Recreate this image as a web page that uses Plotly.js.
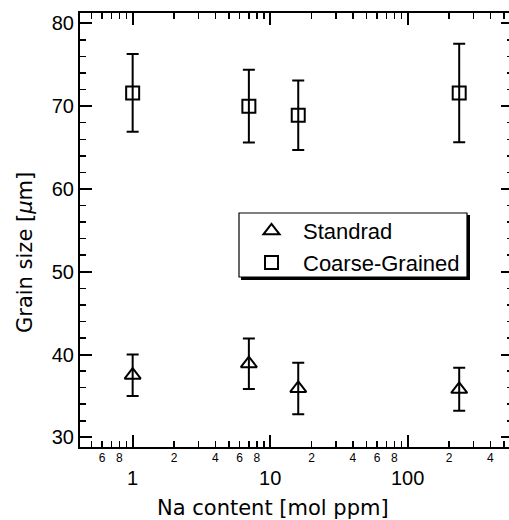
<!DOCTYPE html>
<html>
<head>
<meta charset="utf-8">
<script src="https://cdn.plot.ly/plotly-3.0.1.min.js"></script>
<style>html,body{margin:0;padding:0;overflow:hidden;background:#fff;}#chart{width:514px;height:520px;}</style>
</head>
<body>
<div id="chart"></div>
<script>
// Data
const naContent = [1, 7, 16, 237];
const standardSize = [37.5, 38.9, 35.9, 35.8];
const standardErr = [2.5, 3.05, 3.1, 2.6];
const coarseSize = [71.6, 70.0, 68.9, 71.6];
const coarseErr = [4.7, 4.4, 4.2, 5.95];

const majorTickVals = [1, 10, 100];
const majorTickText = ["1", "10", "100"];
const minorTickVals = [0.5, 0.6, 0.7, 0.8, 0.9,
  2, 3, 4, 5, 6, 7, 8, 9,
  20, 30, 40, 50, 60, 70, 80, 90,
  200, 300, 400, 500];
const minorTickText = ["", "6", "", "8", "",
  "2", "", "4", "", "6", "", "8", "",
  "2", "", "4", "", "6", "", "8", "",
  "2", "", "4", ""];
const yTickVals = [30, 40, 50, 60, 70, 80];

const L = 80, T = 13, W = 433, H = 434;
const px = x => (x - L) / W;
const py = y => (447 - y) / H;

const errStyle = (arr) => ({type: 'data', array: arr, visible: true, color: '#000', thickness: 2, width: 6});

const traces = [
  {
    x: naContent, y: standardSize, name: 'Standrad', type: 'scatter', mode: 'markers',
    marker: {symbol: 'triangle-up-open', size: 14, color: '#000', line: {width: 2, color: '#000'}},
    error_y: errStyle(standardErr), xaxis: 'x', yaxis: 'y'
  },
  {
    x: naContent, y: coarseSize, name: 'Coarse-Grained', type: 'scatter', mode: 'markers',
    marker: {symbol: 'square-open', size: 13, color: '#000', line: {width: 2, color: '#000'}},
    error_y: errStyle(coarseErr), xaxis: 'x', yaxis: 'y'
  },
  {
    x: [naContent[0]], y: [standardSize[0]], xaxis: 'x2', yaxis: 'y', type: 'scatter', mode: 'markers',
    marker: {opacity: 0}, showlegend: false, hoverinfo: 'skip'
  }
];

const tickFont = {family: 'Liberation Sans, Arial, sans-serif', size: 20, color: '#000'};

const layout = {
  width: 514, height: 520,
  margin: {l: L, r: 1, t: T, b: 73},
  paper_bgcolor: '#fff', plot_bgcolor: '#fff',
  showlegend: true,
  xaxis: {
    type: 'log', range: [-0.383, 2.766],
    tickmode: 'array', tickvals: majorTickVals, ticktext: majorTickText,
    ticks: 'inside', ticklen: 12, tickwidth: 2, tickcolor: '#000',
    showline: true, linewidth: 2, linecolor: '#000', mirror: 'ticks',
    showgrid: false, zeroline: false,
    tickfont: tickFont, ticklabelstandoff: 12
  },
  xaxis2: {
    type: 'log', range: [-0.383, 2.766], overlaying: 'x', side: 'bottom', anchor: 'y',
    tickmode: 'array', tickvals: minorTickVals, ticktext: minorTickText,
    ticks: 'inside', ticklen: 6, tickwidth: 1.5, tickcolor: '#000',
    showline: false, mirror: 'ticks', showgrid: false, zeroline: false,
    tickfont: {family: 'Liberation Sans, Arial, sans-serif', size: 12, color: '#000'},
    ticklabelstandoff: 2
  },
  yaxis: {
    range: [28.83, 81.25],
    tickmode: 'array', tickvals: yTickVals,
    ticks: 'inside', ticklen: 12, tickwidth: 2, tickcolor: '#000',
    minor: {dtick: 2, ticks: 'inside', ticklen: 6, tickwidth: 1.5, tickcolor: '#000', showgrid: false},
    showline: true, linewidth: 2, linecolor: '#000', mirror: 'ticks',
    showgrid: false, zeroline: false,
    tickfont: tickFont
  },
  legend: {
    x: px(240), y: py(210), xanchor: 'left', yanchor: 'top',
    bgcolor: 'rgba(0,0,0,0)', borderwidth: 0,
    font: {family: 'Liberation Sans, Arial, sans-serif', size: 22, color: '#000'},
    itemwidth: 53
  },
  shapes: [
    // legend drop shadow and frame
    {type: 'rect', xref: 'paper', yref: 'paper',
     x0: px(241), x1: px(470), y0: py(280), y1: py(215),
     fillcolor: '#000', line: {width: 0}, layer: 'above'},
    {type: 'rect', xref: 'paper', yref: 'paper',
     x0: px(239), x1: px(467), y0: py(277), y1: py(213),
     fillcolor: '#fff', line: {width: 1.2, color: '#000'}, layer: 'above'}
  ],
  annotations: [
    {text: 'Na content [mol ppm]', xref: 'paper', yref: 'paper', x: px(272.5), y: py(508),
     xanchor: 'center', yanchor: 'middle', showarrow: false,
     font: {family: 'DejaVu Sans, sans-serif', size: 21, color: '#000'}},
    {text: 'Grain size [<i>μ</i>m]', xref: 'paper', yref: 'paper', x: px(25), y: py(252),
     xanchor: 'center', yanchor: 'middle', showarrow: false, textangle: -90,
     font: {family: 'DejaVu Sans, sans-serif', size: 21, color: '#000'}}
  ]
};

Plotly.newPlot('chart', traces, layout, {displayModeBar: false, staticPlot: true});
</script>
</body>
</html>
